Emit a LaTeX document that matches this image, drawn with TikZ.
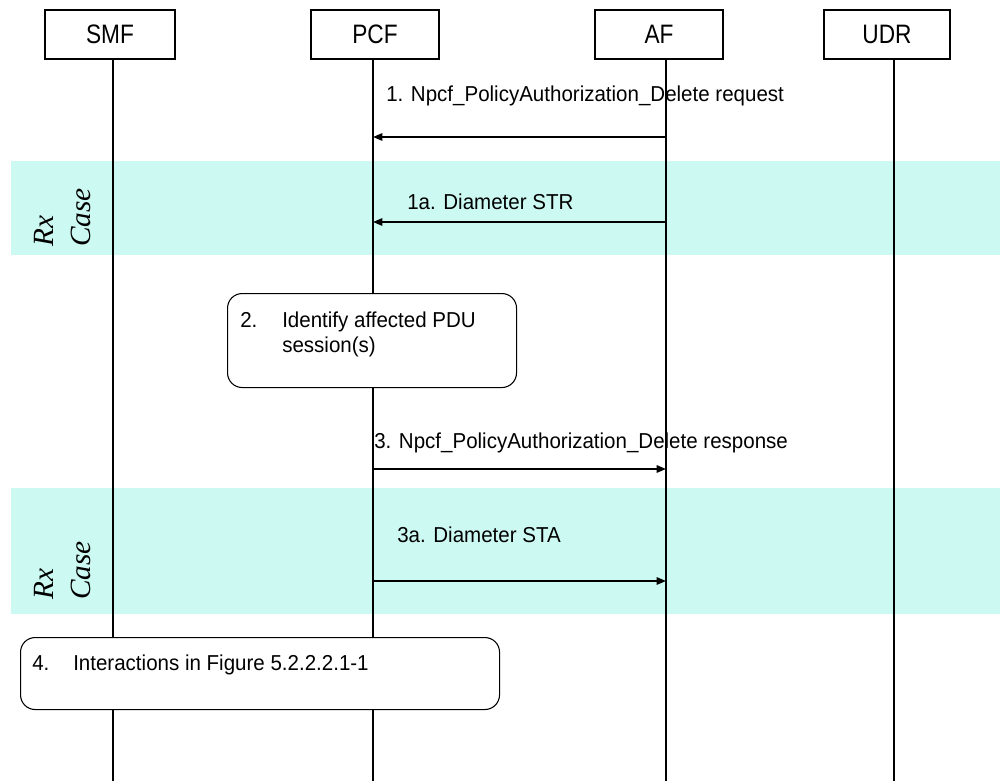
\documentclass[tikz,border=0pt]{standalone}
\usepackage{fontspec}
\setmainfont{Liberation Sans}
\newfontfamily\hdrfont{Liberation Sans}[FakeStretch=0.85]
\newfontfamily\msgfont{Liberation Sans}[FakeStretch=0.95]
\newfontfamily\rxfont{Liberation Serif}
\usetikzlibrary{arrows.meta}
\definecolor{rxband}{RGB}{204,250,242}
\begin{document}
\begin{tikzpicture}[x=0.75pt,y=-0.75pt,
  entity/.style={draw,line width=0.8pt,minimum height=36.75pt,inner sep=0pt,
    font=\hdrfont\fontsize{20}{24}\selectfont},
  lifeline/.style={line width=0.8pt},
  msg/.style={line width=1.4pt,-{Triangle[length=7pt,width=5.5pt]}},
  msgtext/.style={inner sep=0pt,font=\msgfont\fontsize{16.2}{18.8}\selectfont},
  stepbox/.style={draw,fill=white,line width=0.8pt,rounded corners=11pt,inner sep=0pt,anchor=north west},
  rxlabel/.style={rotate=90,anchor=base west,inner sep=0pt,
    font=\rxfont\itshape\fontsize{22}{26}\selectfont}
]
\useasboundingbox (0,0) rectangle (1000,781);

% Rx case shaded bands
\fill[rxband] (11,161) rectangle (1000,255);
\fill[rxband] (11,488) rectangle (1000,614);
\node[rxlabel] (rx1) at (53,247) {Rx};
\node[rxlabel] (case1) at (90,247) {Case};
\node[rxlabel] (rx2) at (53,600) {Rx};
\node[rxlabel] (case2) at (90,600) {Case};

% Entities
\node[entity,minimum width=97.5pt] (smf) at (110,34.5) {SMF};
\node[entity,minimum width=96pt]   (pcf) at (375,34.5) {PCF};
\node[entity,minimum width=96pt]   (af)  at (659,34.5) {AF};
\node[entity,minimum width=94.5pt] (udr) at (887,34.5) {UDR};

% Lifeline end points
\coordinate (smfT) at (113,59);  \coordinate (smfB) at (113,781);
\coordinate (pcfT) at (373,59);  \coordinate (pcfB) at (373,781);
\coordinate (afT)  at (666,59);  \coordinate (afB)  at (666,781);
\coordinate (udrT) at (894,59);  \coordinate (udrB) at (894,781);
\draw[lifeline] (smfT) -- (smfB);
\draw[lifeline] (pcfT) -- (pcfB);
\draw[lifeline] (afT) -- (afB);
\draw[lifeline] (udrT) -- (udrB);

% Messages
\node[msgtext,anchor=west] (t1) at (386,96) {1. Npcf\_PolicyAuthorization\_Delete request};
\draw[msg] (afT |- 0,137) -- (pcfT |- 0,137);

\node[msgtext,anchor=west] (t1a) at (407,202) {1a. Diameter STR};
\draw[msg] (afT |- 0,222) -- (pcfT |- 0,222);

\node[stepbox,minimum width=216.75pt,minimum height=70.5pt] (s2) at (227,293) {};
\node[msgtext,anchor=north west] (n2) at (240,312) {2.};
\node[msgtext,anchor=north west,align=left] (d2) at (282,312) {Identify affected PDU\\session(s)};

\node[msgtext,anchor=west] (t3) at (374,443) {3. Npcf\_PolicyAuthorization\_Delete response};
\draw[msg] (pcfT |- 0,469) -- (afT |- 0,469);

\node[msgtext,anchor=west] (t3a) at (397,535) {3a. Diameter STA};
\draw[msg] (pcfT |- 0,581) -- (afT |- 0,581);

\node[stepbox,minimum width=359.25pt,minimum height=54pt] (s4) at (20,637) {};
\node[msgtext,anchor=north west] (n4) at (32,655) {4.};
\node[msgtext,anchor=north west] (d4) at (73,655) {Interactions in Figure 5.2.2.2.1-1};
\end{tikzpicture}
\end{document}
